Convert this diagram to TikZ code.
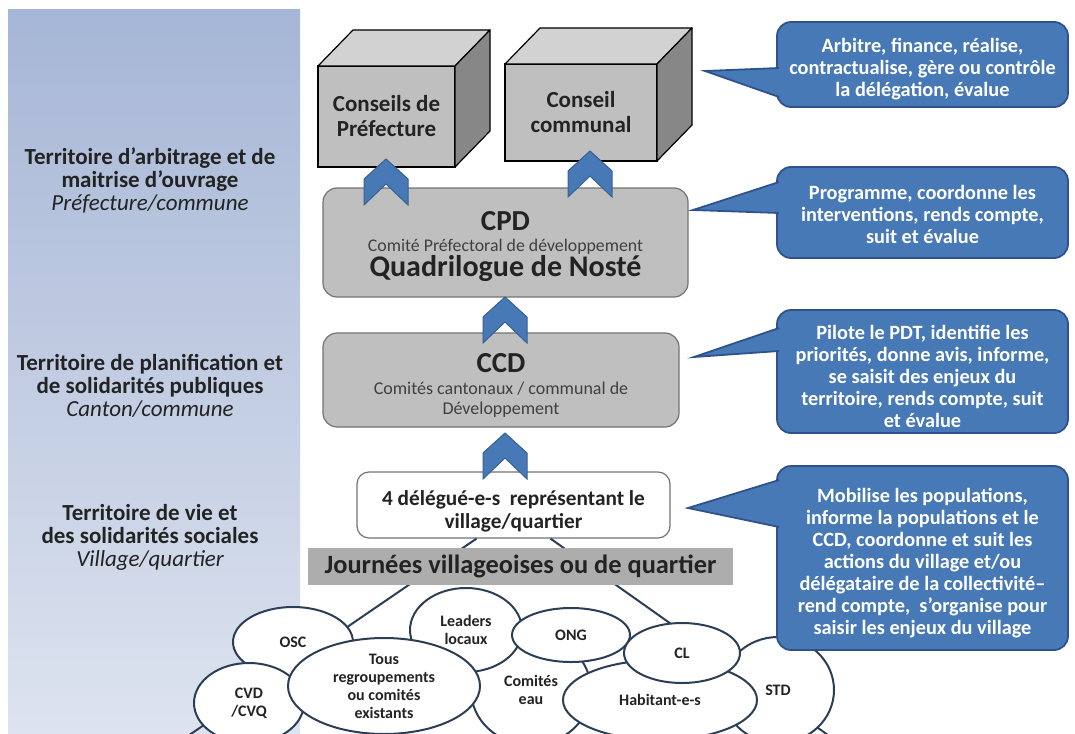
\documentclass[tikz,border=0pt]{standalone}
\usepackage{fontspec}
\setmainfont{Carlito}
\usetikzlibrary{shapes.geometric}

\definecolor{paneltop}{RGB}{166,182,214}
\definecolor{panelbot}{RGB}{221,227,239}
\definecolor{boxgray}{RGB}{191,191,191}
\definecolor{boxedge}{RGB}{115,115,115}
\definecolor{bargray}{RGB}{173,173,173}
\definecolor{cubefront}{RGB}{191,191,191}
\definecolor{cubetop}{RGB}{210,210,210}
\definecolor{cubeside}{RGB}{135,135,135}
\definecolor{callblue}{RGB}{72,121,183}
\definecolor{calledge}{RGB}{47,82,143}
\definecolor{chevedge}{RGB}{54,96,146}
\definecolor{bubbleedge}{RGB}{44,62,86}
\definecolor{ink}{RGB}{35,35,35}
\definecolor{subink}{RGB}{64,64,64}

\newcommand{\fsz}[2]{\fontsize{#1}{#2}\selectfont}
\newcommand{\padtop}[1]{\rule{0pt}{#1pt}}
\newcommand{\chevup}[1]{\filldraw[chevron] (#1) -- ++(22,20) -- ++(0,26) -- ++(-22,-21) -- ++(-22,21) -- ++(0,-26) -- cycle;}

\begin{document}
\begin{tikzpicture}[x=1pt, y=-1pt, thick, text=ink,
  side/.style = {font=\fsz{23}{23}\bfseries, align=center},
  cube/.style = {draw=black, line width=1.2pt, fill=cubefront, outer sep=0pt, inner sep=0pt, font=\fsz{23}{25}\bfseries, align=center},
  face/.style = {draw=black, line width=1.2pt, line join=round},
  comite/.style = {draw=boxedge, line width=1.2pt, fill=boxgray, rounded corners=14pt, inner sep=0pt, align=center},
  deleg/.style = {draw=boxedge, line width=1.2pt, fill=white, rounded corners=12pt, inner sep=0pt, align=center, font=\fsz{21.3}{23}\bfseries},
  bar/.style = {fill=bargray, inner sep=0pt, font=\fsz{26.4}{28}\bfseries},
  chevron/.style = {fill=callblue, draw=chevedge, line width=1pt, line join=miter},
  note/.style = {fill=callblue, draw=calledge, line width=1.8pt, rounded corners=14pt, text=white, font=\fsz{20.3}{22}\bfseries, align=center, minimum width=291, inner sep=0pt},
  tail/.style = {fill=callblue, draw=calledge, line width=1.8pt, line join=miter},
  bubble/.style = {ellipse, draw=bubbleedge, line width=2pt, fill=white, inner sep=0pt, font=\fsz{16}{18}\bfseries, align=center},
  leg/.style = {draw=bubbleedge, line width=2pt}]

\useasboundingbox (0,0) rectangle (1075,733);
\clip (0,0) rectangle (1075,733);
\shade[top color=paneltop, bottom color=panelbot] (8,10) rectangle (300,733);

\node[side] (arb) at (150,180) {Territoire d’arbitrage et de\\maitrise d’ouvrage\\{\mdseries\itshape Préfecture/commune}};
\node[side] (plan) at (150,386) {Territoire de planification et\\de solidarités publiques\\{\mdseries\itshape Canton/commune}};
\node[side] (vie) at (150,537) {Territoire de vie et\\des solidarités sociales\\{\mdseries\itshape Village/quartier}};

\node[cube, minimum width=137, minimum height=101] (prefecture) at (386.5,116.5) {Conseils de\\Préfecture};
\filldraw[face, fill=cubetop] (prefecture.north west) -- ++(35,-36) -- ([shift={(35,-36)}]prefecture.north east) -- (prefecture.north east) -- cycle;
\filldraw[face, fill=cubeside] (prefecture.north east) -- ++(35,-36) -- ([shift={(35,-36)}]prefecture.south east) -- (prefecture.south east) -- cycle;
\node[cube, minimum width=152, minimum height=97] (communal) at (581,112.5) {Conseil\\communal};
\filldraw[face, fill=cubetop] (communal.north west) -- ++(35,-36) -- ([shift={(35,-36)}]communal.north east) -- (communal.north east) -- cycle;
\filldraw[face, fill=cubeside] (communal.north east) -- ++(35,-36) -- ([shift={(35,-36)}]communal.south east) -- (communal.south east) -- cycle;

\node[comite, minimum width=365, minimum height=109, font=\fsz{17.8}{20.5}] (cpd) at (505.5,242.5) {{\fsz{29}{31}\bfseries\padtop{27}CPD}\\{\color{subink}Comité Préfectoral de développement}\\{\fsz{30}{31}\bfseries Quadrilogue de Nosté}};
\node[comite, minimum width=356, minimum height=94, font=\fsz{18}{20}] (ccd) at (501,380) {{\fsz{29}{31}\bfseries\padtop{29}CCD}\\[2pt]{\color{subink}Comités cantonaux / communal de}\\{\color{subink}Développement}};
\node[deleg, minimum width=313, minimum height=66] (delegues) at (513.5,505) {\padtop{27}4 délégué-e-s\ \ représentant le\\village/quartier};

\chevup{386,159}
\chevup{590,151}
\chevup{505,297}
\chevup{505,433}

\coordinate (footl) at (182,740);
\coordinate (footr) at (835,740);
\draw[leg] ([xshift=-37]delegues.south) -- (footl);
\draw[leg] ([xshift=37]delegues.south) -- (footr);

\node[bar, minimum width=425, minimum height=37] (journees) at (520.5,566.5) {Journées villageoises ou de quartier};

\node[bubble, minimum width=120, minimum height=110] (eau) at (531,690) {Comités\\eau};
\node[bubble, minimum width=112, minimum height=106] (std) at (778,690) {STD};
\node[bubble, minimum width=194, minimum height=80] (habitants) at (660,700) {Habitant-e-s};
\node[bubble, minimum width=112, minimum height=84] (leaders) at (466,630) {Leaders\\locaux};
\node[bubble, minimum width=118, minimum height=54] (ong) at (571,635) {ONG};
\node[bubble, minimum width=116, minimum height=60] (cl) at (682,653) {CL};
\node[bubble, minimum width=120, minimum height=70] (osc) at (293,642) {OSC};
\node[bubble, minimum width=110, minimum height=80] (cvd) at (249,703) {CVD\\/CVQ};
\node[bubble, minimum width=192, minimum height=96] (tous) at (384,686) {Tous\\regroupements\\ou comités\\existants};

\node[note, minimum height=85] (c1) at (922.5,64.5) {\padtop{23}Arbitre, finance, réalise,\\contractualise, gère ou contrôle\\la délégation, évalue};
\coordinate (t1) at (705,71);
\path[tail] ([shift={(3,3.5)}]c1.west) -- (t1) -- ([shift={(3,32.5)}]c1.west);

\node[note, minimum height=91] (c2) at (922.5,212.5) {\padtop{19}Programme, coordonne les\\interventions, rends compte,\\suit et évalue};
\coordinate (t2) at (693,210);
\path[tail] ([shift={(3,-30.5)}]c2.west) -- (t2) -- ([shift={(3,0.5)}]c2.west);

\node[note, minimum height=123] (c3) at (922.5,371.5) {\padtop{25}Pilote le PDT, identifie les\\priorités, donne avis, informe,\\se saisit des enjeux du\\territoire, rends compte, suit\\et évalue};
\coordinate (t3) at (694,357);
\path[tail] ([shift={(3,-43.5)}]c3.west) -- (t3) -- ([shift={(3,-20.5)}]c3.west);

\node[note, minimum height=184] (c4) at (922.5,558) {\padtop{25}Mobilise les populations,\\informe la populations et le\\CCD, coordonne et suit les\\actions du village et/ou\\délégataire de la collectivité–\\rend compte,\ \ s’organise pour\\saisir les enjeux du village};
\coordinate (t4) at (688,508);
\path[tail] ([shift={(3,-78)}]c4.west) -- (t4) -- ([shift={(3,-31)}]c4.west);
\end{tikzpicture}
\end{document}
